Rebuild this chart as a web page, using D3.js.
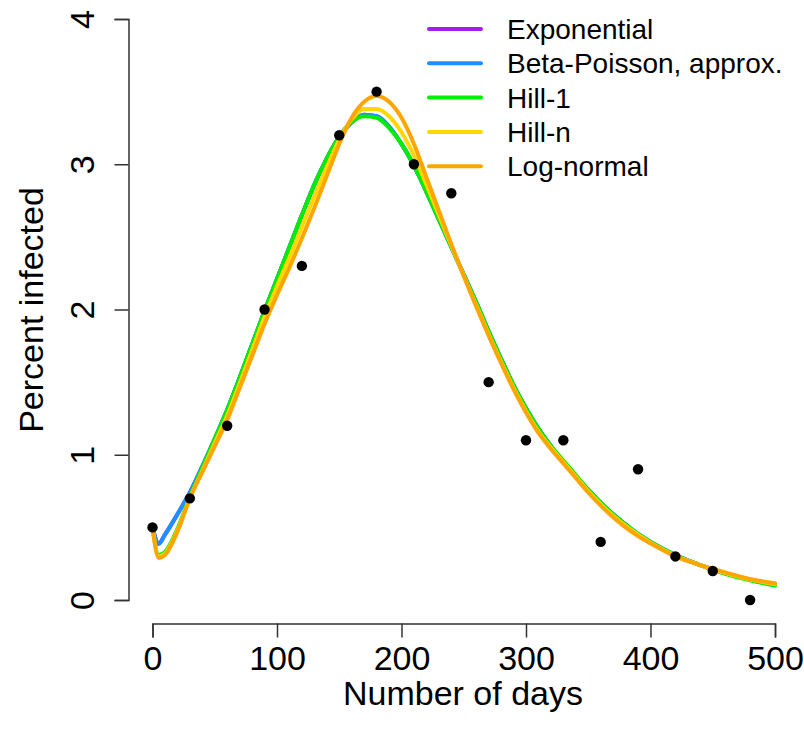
<!DOCTYPE html>
<html>
<head>
<meta charset="utf-8">
<script src="https://cdn.jsdelivr.net/npm/d3@7"></script>
<style>
  body { margin: 0; background: #fff; }
  svg { display: block; font-family: "Liberation Sans", Arial, sans-serif; }
</style>
</head>
<body>
<svg id="chart" width="804" height="735"></svg>
<script>
// Observed data
const obsDays = [0, 30, 60, 90, 120, 150, 180, 210, 240, 270, 300, 330, 360, 390, 420, 450, 480];
const obsPct  = [0.5, 0.7, 1.2, 2.0, 2.3, 3.2, 3.5, 3.0, 2.8, 1.5, 1.1, 1.1, 0.4, 0.9, 0.3, 0.2, 0.0];

// Model curves
const curveDays = [0,5,10,20,30,40,50,60,70,80,90,100,110,120,130,140,150,160,170,180,190,200,210,220,230,240,250,260,270,280,290,300,310,320,330,340,350,360,370,380,390,400,420,440,460,480,500];
const exponential = [0.50,0.39,0.45,0.59,0.74,0.92,1.11,1.31,1.53,1.76,1.99,2.21,2.43,2.65,2.86,3.04,3.19,3.29,3.34,3.33,3.26,3.14,2.99,2.81,2.62,2.43,2.24,2.05,1.85,1.66,1.48,1.32,1.18,1.06,0.95,0.85,0.76,0.67,0.59,0.52,0.455,0.40,0.31,0.24,0.185,0.14,0.105];
const betaPoisson = [0.50,0.385,0.45,0.59,0.74,0.92,1.11,1.31,1.53,1.76,1.99,2.21,2.43,2.65,2.86,3.04,3.19,3.29,3.34,3.33,3.26,3.14,2.99,2.81,2.62,2.43,2.24,2.05,1.85,1.66,1.48,1.32,1.18,1.06,0.95,0.85,0.76,0.67,0.59,0.52,0.455,0.40,0.31,0.24,0.185,0.14,0.105];
const hill1 = [0.50,0.31,0.33,0.49,0.71,0.91,1.11,1.31,1.53,1.76,1.99,2.21,2.43,2.65,2.86,3.04,3.19,3.29,3.33,3.32,3.25,3.14,2.99,2.81,2.62,2.43,2.24,2.05,1.85,1.66,1.48,1.32,1.18,1.06,0.96,0.86,0.76,0.67,0.59,0.52,0.455,0.40,0.31,0.24,0.18,0.135,0.10];
const hillN = [0.50,0.30,0.32,0.48,0.70,0.89,1.08,1.27,1.49,1.72,1.95,2.16,2.36,2.57,2.78,2.98,3.17,3.31,3.38,3.38,3.33,3.22,3.06,2.86,2.65,2.44,2.23,2.03,1.83,1.64,1.46,1.30,1.16,1.05,0.95,0.85,0.75,0.66,0.58,0.51,0.45,0.395,0.305,0.24,0.185,0.14,0.11];
const logNormal = [0.50,0.29,0.31,0.47,0.70,0.88,1.06,1.24,1.46,1.68,1.90,2.10,2.29,2.49,2.70,2.92,3.14,3.32,3.43,3.47,3.43,3.32,3.14,2.91,2.68,2.45,2.23,2.02,1.82,1.63,1.45,1.29,1.15,1.04,0.94,0.84,0.74,0.65,0.57,0.50,0.44,0.39,0.30,0.24,0.19,0.145,0.115];

const seriesNames = ["Exponential", "Beta-Poisson, approx.", "Hill-1", "Hill-n", "Log-normal"];
const seriesValues = [exponential, betaPoisson, hill1, hillN, logNormal];
const seriesColors = ["#A020F0", "#1E90FF", "#00EE00", "#FFD700", "#FFA500"];

const xTicks = [0, 100, 200, 300, 400, 500];
const yTicks = [0, 1, 2, 3, 4];

const svg = d3.select("#chart");
const x = d3.scaleLinear().domain([0, 500]).range([152.5, 775]);
const y = d3.scaleLinear().domain([0, 4]).range([600, 19]);

const axisColor = "#333";

// X axis
const gx = svg.append("g").attr("transform", "translate(0,623.5)")
  .call(d3.axisBottom(x).tickValues(xTicks).tickSize(14).tickSizeOuter(14).tickPadding(8).tickFormat(d3.format("d")));
gx.selectAll("path, line").attr("stroke", axisColor).attr("stroke-width", 1.5);
gx.selectAll("text").attr("font-size", 34).attr("fill", "#000").attr("font-family", "Liberation Sans, Arial, sans-serif");

// Y axis
const gy = svg.append("g").attr("transform", "translate(128.5,0)")
  .call(d3.axisLeft(y).tickValues(yTicks).tickSize(14).tickSizeOuter(14).tickFormat(d3.format("d")));
gy.selectAll("path, line").attr("stroke", axisColor).attr("stroke-width", 1.5);
gy.selectAll("text")
  .attr("font-size", 34).attr("fill", "#000").attr("font-family", "Liberation Sans, Arial, sans-serif")
  .attr("text-anchor", "middle").attr("x", 0).attr("dy", null)
  .attr("transform", "translate(-47,0) rotate(-90)")
  .attr("dominant-baseline", "central");

// Axis titles
svg.append("text").attr("x", 463).attr("y", 705).attr("text-anchor", "middle")
  .attr("font-size", 34).text("Number of days");
svg.append("text").attr("transform", "translate(43,310) rotate(-90)").attr("text-anchor", "middle")
  .attr("font-size", 34).text("Percent infected");

// Curves
const line = d3.line().x((d, i) => x(curveDays[i])).y(d => y(d)).curve(d3.curveMonotoneX);
seriesValues.forEach((vals, k) => {
  svg.append("path").datum(vals).attr("d", line)
    .attr("fill", "none").attr("stroke", seriesColors[k]).attr("stroke-width", 4)
    .attr("stroke-linejoin", "round").attr("stroke-linecap", "round");
});

// Points
svg.append("g").selectAll("circle").data(obsDays).join("circle")
  .attr("cx", d => x(d)).attr("cy", (d, i) => y(obsPct[i])).attr("r", 5.2).attr("fill", "#000");

// Legend
const lg = svg.append("g");
seriesNames.forEach((name, k) => {
  const yy = 29 + k * 34.3;
  lg.append("line").attr("x1", 429).attr("x2", 481).attr("y1", yy).attr("y2", yy)
    .attr("stroke", seriesColors[k]).attr("stroke-width", 4).attr("stroke-linecap", "round");
  lg.append("text").attr("x", 507).attr("y", yy).attr("dy", "0.36em")
    .attr("font-size", 28).text(name);
});
</script>
</body>
</html>
